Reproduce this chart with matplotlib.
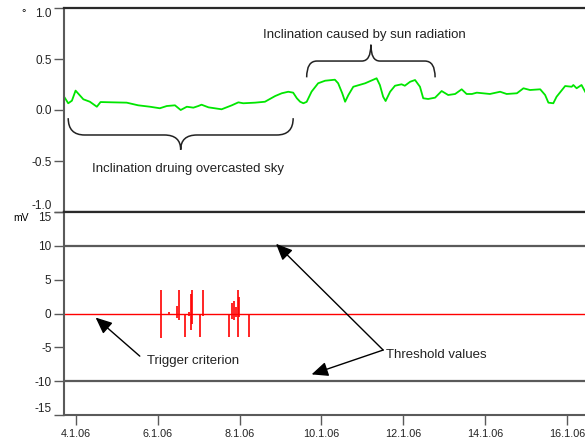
import matplotlib
matplotlib.use("Agg")
import matplotlib.pyplot as plt
from matplotlib.path import Path
from matplotlib.patches import PathPatch

plt.rcParams['font.family'] = ['Liberation Sans', 'DejaVu Sans']
plt.rcParams['axes.unicode_minus'] = False

# inclination (deg) over time, x = day of January 2006
incl_day = [3.71, 3.81, 3.90, 3.99, 4.18, 4.34, 4.51, 4.60, 4.91, 5.24, 5.52, 5.81,
            6.05, 6.22, 6.42, 6.56, 6.71, 6.87, 6.99, 7.07, 7.24, 7.56, 7.81, 7.97,
            8.09, 8.38, 8.62, 8.87, 9.03, 9.19, 9.31, 9.40, 9.48, 9.56, 9.64, 9.76,
            9.92, 10.09, 10.33, 10.41, 10.51, 10.58, 10.66, 10.78, 11.07, 11.35, 11.43,
            11.51, 11.57, 11.68, 11.80, 11.96, 12.04, 12.17, 12.29, 12.41, 12.49, 12.61,
            12.78, 12.94, 13.10, 13.27, 13.43, 13.55, 13.68, 13.80, 14.12, 14.37, 14.53,
            14.78, 14.94, 15.10, 15.35, 15.47, 15.55, 15.67, 15.75, 15.96, 16.12, 16.16,
            16.24, 16.36, 16.45]
incl_val = [0.13, 0.066, 0.091, 0.19, 0.105, 0.081, 0.032, 0.078, 0.075, 0.072, 0.046, 0.032,
            0.017, 0.039, 0.046, 0.0, 0.032, 0.023, 0.039, 0.052, 0.026, 0.007, 0.046, 0.075,
            0.066, 0.072, 0.081, 0.137, 0.164, 0.179, 0.17, 0.115, 0.081, 0.066, 0.08, 0.18,
            0.262, 0.287, 0.297, 0.262, 0.164, 0.081, 0.147, 0.228, 0.262, 0.311, 0.245,
            0.13, 0.088, 0.179, 0.238, 0.252, 0.238, 0.277, 0.294, 0.228, 0.115, 0.108,
            0.121, 0.186, 0.147, 0.157, 0.203, 0.157, 0.157, 0.17, 0.157, 0.179, 0.157,
            0.164, 0.213, 0.196, 0.203, 0.147, 0.072, 0.066, 0.13, 0.235, 0.228, 0.245,
            0.213, 0.245, 0.179]

# trigger signal (mV) spikes
spike_day = [6.07, 6.28, 6.48, 6.53, 6.66, 6.76, 6.80, 6.84, 7.03, 7.10,
             7.75, 7.82, 7.87, 7.91, 7.95, 7.99, 8.24]
spike_hi = [3.5, 0.2, 1.1, 3.5, 0.0, 0.2, 2.9, 3.4, 0.0, 3.4,
            0.0, 1.5, 1.8, 0.9, 3.4, 2.4, 0.0]
spike_lo = [-3.6, -0.2, -0.6, -1.0, -3.5, -0.3, -2.5, -1.5, -3.5, -0.3,
            -3.5, -0.8, -1.0, -0.5, -3.5, -0.5, -3.5]

threshold = 10
trigger = 0

tick_days = [4, 6, 8, 10, 12, 14, 16]
tick_labels = ["4.1.06", "6.1.06", "8.1.06", "10.1.06", "12.1.06", "14.1.06", "16.1.06"]
top_ticks = [1.0, 0.5, 0.0, -0.5, -1.0]
bot_ticks = [15, 10, 5, 0, -5, -10, -15]

fig = plt.figure(figsize=(5.85, 4.42), dpi=100)
ax1 = fig.add_axes([64 / 585, 1 - 212 / 442, 1 - 64 / 585, 204 / 442])
ax2 = fig.add_axes([64 / 585, 1 - 415 / 442, 1 - 64 / 585, 203 / 442])

xmin, xmax = 3.707, 16.445
fs = 8.5
afs = 9.5
gray = '#5a5a5a'
dark = '#2a2a2a'
tcol = '#222222'


def brace(ax, x0, x1, y_end, y_flat, y_tip, r_end, r_tip):
    xc = (x0 + x1) / 2
    verts = [(x0, y_end), (x0, y_flat), (x0 + r_end, y_flat),
             (xc - r_tip, y_flat),
             (xc, y_flat), (xc, y_tip),
             (xc, y_flat), (xc + r_tip, y_flat),
             (x1 - r_end, y_flat),
             (x1, y_flat), (x1, y_end)]
    codes = [Path.MOVETO, Path.CURVE3, Path.CURVE3, Path.LINETO,
             Path.CURVE3, Path.CURVE3, Path.CURVE3, Path.CURVE3,
             Path.LINETO, Path.CURVE3, Path.CURVE3]
    ax.add_patch(PathPatch(Path(verts, codes), fill=False, ec=tcol, lw=1.1))


# top panel
ax1.plot(incl_day, incl_val, color='#00e600', lw=1.3)
ax1.set_xlim(xmin, xmax)
ax1.set_ylim(-1, 1)
ax1.set_yticks(top_ticks)
ax1.set_yticklabels(["%.1f" % v for v in top_ticks])
ax1.set_xticks([])
ax1.spines['right'].set_visible(False)
ax1.spines['top'].set_color(dark)
ax1.spines['top'].set_linewidth(1.6)
ax1.spines['bottom'].set_color(dark)
ax1.spines['bottom'].set_linewidth(1.6)
ax1.spines['left'].set_color(gray)
ax1.spines['left'].set_linewidth(1.5)
ax1.tick_params(axis='y', direction='out', length=7, width=1, color=gray,
                labelsize=fs, pad=2, labelcolor=tcol)
yt = ax1.yaxis.get_major_ticks()
yt[0].label1.set_va('top')
yt[-1].label1.set_va('bottom')

brace(ax1, 9.64, 12.78, 0.32, 0.48, 0.64, 0.25, 0.22)
ax1.text(11.04, 0.735, "Inclination caused by sun radiation", ha='center', va='center',
         fontsize=afs, color=tcol)
brace(ax1, 3.81, 9.31, -0.08, -0.245, -0.39, 0.4, 0.4)
ax1.text(6.74, -0.58, "Inclination druing overcasted sky", ha='center', va='center',
         fontsize=afs, color=tcol)

# bottom panel
ax2.axhline(threshold, color=gray, lw=1.6)
ax2.axhline(-threshold, color=gray, lw=1.6)
ax2.axhline(trigger, color='#ff0000', lw=1.0)
ax2.vlines(spike_day, spike_lo, spike_hi, color='#ff0000', lw=1.2)
ax2.set_xlim(xmin, xmax)
ax2.set_ylim(-15, 15)
ax2.set_yticks(bot_ticks)
ax2.set_xticks(tick_days)
ax2.set_xticklabels(tick_labels)
ax2.spines['right'].set_visible(False)
ax2.spines['top'].set_color(dark)
ax2.spines['top'].set_linewidth(1.6)
ax2.spines['bottom'].set_color(gray)
ax2.spines['bottom'].set_linewidth(1.5)
ax2.spines['left'].set_color(gray)
ax2.spines['left'].set_linewidth(1.5)
ax2.tick_params(direction='out', length=7, width=1, color=gray, labelsize=fs, pad=2,
                labelcolor=tcol)
ax2.tick_params(axis='x', pad=3, labelsize=7.8)
yt = ax2.yaxis.get_major_ticks()
yt[0].label1.set_va('top')
yt[-1].label1.set_va('bottom')

arrow = dict(arrowstyle='-|>,head_length=0.5,head_width=0.22', color='black', lw=1,
             mutation_scale=20, shrinkA=0, shrinkB=0)
ax2.annotate('', xy=(4.48, -0.6), xytext=(5.56, -6.3), arrowprops=arrow)
ax2.text(5.73, -7.0, "Trigger criterion", ha='left', va='center', fontsize=afs,
         color=tcol)
ax2.annotate('', xy=(8.89, 10.3), xytext=(11.51, -5.4), arrowprops=arrow)
ax2.annotate('', xy=(9.76, -9.0), xytext=(11.51, -5.4), arrowprops=arrow)
ax2.text(11.57, -6.1, "Threshold values", ha='left', va='center', fontsize=afs,
         color=tcol)

fig.text(24 / 585, 1 - 13 / 442, "°", ha='center', va='center', fontsize=8)
fig.text(21 / 585, 1 - 218 / 442, "mV", ha='center', va='center', fontsize=7.5)

fig.savefig("out.png", dpi=100)
